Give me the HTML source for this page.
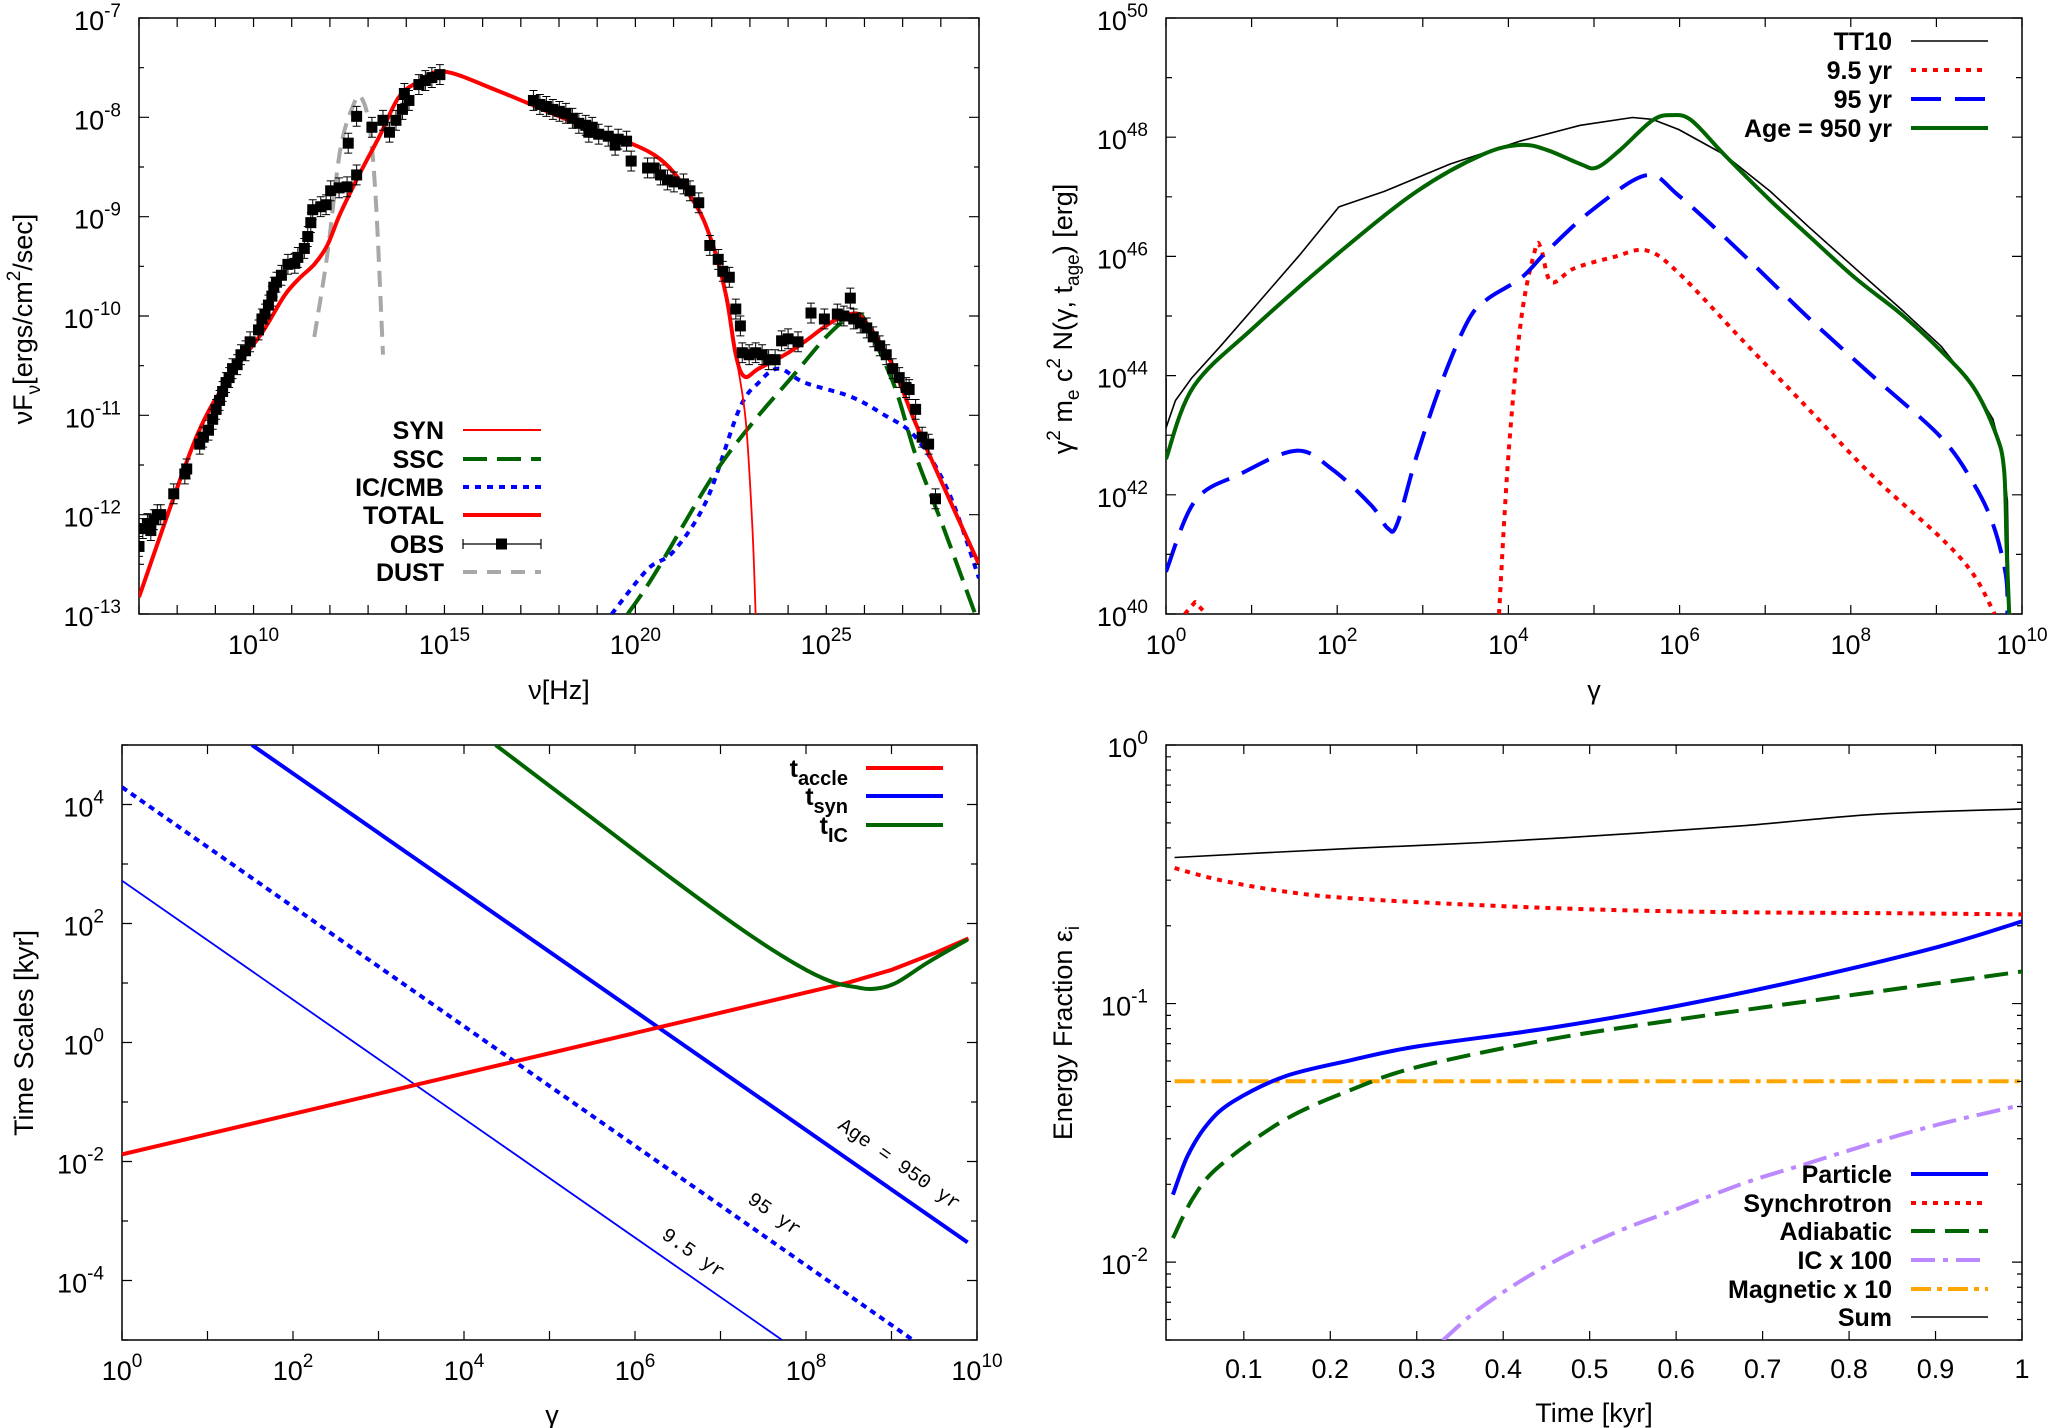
<!DOCTYPE html>
<html><head><meta charset="utf-8">
<style>
body{margin:0;background:#fff}
svg{display:block;font-family:"Liberation Sans",sans-serif}
</style></head>
<body>
<svg id="chart" width="2050" height="1428" viewBox="0 0 2050 1428"></svg>
<script>
// ===== Panel 1: SED (log10 nu, log10 nuFnu) =====
const synX  = [7.00,8.5,9.5,10.22,10.8,11.2,11.59,11.93,12.27,12.79,13.3,13.8,14.33,15.0,16.38,18.44,20.5,21.5,22.0,22.38,22.63,22.89,23.06,23.15];
const synY  = [-12.83,-11.22,-10.55,-10.17,-9.8,-9.62,-9.48,-9.29,-8.97,-8.56,-8.19,-7.8,-7.64,-7.54,-7.73,-8.06,-8.38,-8.83,-9.25,-9.8,-10.39,-11.05,-12.09,-13.0];
const totX  = [7.00,8.5,9.5,10.22,10.8,11.2,11.59,11.93,12.27,12.79,13.3,13.8,14.33,15.0,16.38,18.44,20.5,21.5,22.0,22.38,22.63,22.86,23.23,23.92,24.43,25.1,25.63,25.97,26.66,27.34,28.03,29.0];
const totY  = [-12.83,-11.22,-10.55,-10.17,-9.8,-9.62,-9.48,-9.29,-8.97,-8.56,-8.19,-7.8,-7.64,-7.54,-7.73,-8.06,-8.38,-8.83,-9.25,-9.8,-10.39,-10.61,-10.53,-10.39,-10.26,-10.07,-9.98,-10.03,-10.44,-11.08,-11.68,-12.5];
const sscX  = [19.8,20.5,22.0,23.06,24.09,25.1,25.8,26.1,26.8,27.34,28.03,28.9];
const sscY  = [-13,-12.6,-11.63,-11.08,-10.62,-10.17,-9.98,-10.12,-10.72,-11.4,-12.09,-13];
const cmbX  = [19.38,20.32,21.0,21.86,22.72,23.23,23.75,24.43,25.63,26.49,27.34,28.2,29.0];
const cmbY  = [-13,-12.55,-12.37,-11.86,-10.94,-10.67,-10.53,-10.67,-10.81,-10.99,-11.22,-11.77,-12.64];
const dustX = [11.59,11.93,12.27,12.62,12.82,13.04,13.21,13.39];
const dustY = [-10.21,-9.39,-8.33,-7.87,-7.8,-8.1,-8.88,-10.39];
const obsX = [7.00,7.10,7.22,7.31,7.39,7.48,7.57,7.91,8.20,8.25,8.59,8.68,8.82,8.93,9.02,9.11,9.19,9.28,9.36,9.45,9.57,9.67,9.79,9.91,10.13,10.22,10.30,10.39,10.48,10.53,10.60,10.73,10.90,11.08,11.16,11.33,11.42,11.50,11.55,11.76,11.90,12.02,12.24,12.45,12.70,12.48,12.70,13.10,13.39,13.56,13.73,13.90,14.07,13.95,14.33,14.50,14.67,14.88,
 17.33,17.50,17.67,17.84,18.01,18.18,18.35,18.52,18.70,18.87,18.78,19.04,19.29,19.47,19.55,19.77,19.89,20.32,20.49,20.66,20.84,21.01,21.26,21.43,21.66,21.95,22.17,22.29,22.46,22.63,22.75,
 22.80,22.98,23.15,23.32,23.49,23.66,23.83,24.00,24.26,24.60,24.95,25.29,25.46,25.63,25.72,25.89,26.06,26.23,26.40,26.57,26.74,26.91,27.09,27.17,27.34,27.51,27.68,27.86];
const obsY = [-12.32,-12.14,-12.09,-12.16,-12.05,-12.00,-12.00,-11.79,-11.59,-11.54,-11.29,-11.22,-11.15,-11.04,-10.94,-10.85,-10.76,-10.67,-10.62,-10.53,-10.49,-10.39,-10.35,-10.26,-10.14,-10.03,-9.98,-9.89,-9.80,-9.71,-9.66,-9.59,-9.48,-9.47,-9.41,-9.32,-9.20,-9.06,-8.93,-8.90,-8.88,-8.74,-8.71,-8.70,-8.58,-8.26,-7.99,-8.10,-8.03,-8.15,-8.03,-7.92,-7.83,-7.76,-7.67,-7.63,-7.60,-7.57,
 -7.83,-7.87,-7.89,-7.92,-7.94,-7.96,-8.01,-8.06,-8.08,-8.10,-8.15,-8.17,-8.19,-8.28,-8.22,-8.24,-8.44,-8.51,-8.51,-8.58,-8.63,-8.65,-8.67,-8.74,-8.86,-9.29,-9.43,-9.55,-9.61,-9.93,-10.10,
 -10.37,-10.39,-10.37,-10.39,-10.44,-10.44,-10.25,-10.23,-10.26,-9.97,-10.03,-9.98,-10.00,-9.82,-10.03,-10.07,-10.12,-10.21,-10.30,-10.39,-10.53,-10.62,-10.72,-10.74,-10.94,-11.22,-11.29,-11.84];
const obsErr = 0.1;

// ===== Panel 2: electron spectra (log10 gamma, log10 energy) =====
const ttX  = [0,0,0.11,0.30,0.64,1.10,1.56,2.02,2.55,3.32,4.15,4.84,5.45,5.68,5.99,6.52,7.06,7.52,8.05,8.59,9.05,9.43,9.66,9.77,9.83,9.85];
const ttY  = [43.96,43.12,43.58,43.96,44.5,45.26,46.02,46.83,47.09,47.55,47.94,48.2,48.33,48.3,48.13,47.71,47.09,46.48,45.8,45.11,44.5,43.81,43.27,42.66,41.9,40];
const a950X = [0,0.32,1.02,2.02,2.93,3.70,4.15,4.46,4.84,5.03,5.30,5.68,5.91,6.14,6.52,7.06,7.52,8.05,8.59,9.05,9.43,9.69,9.79,9.82,9.85];
const a950Y = [42.6,43.81,44.8,46.06,47.09,47.71,47.87,47.78,47.55,47.49,47.78,48.28,48.37,48.28,47.71,46.94,46.33,45.64,45.03,44.42,43.81,43.04,42.43,41.13,40];
const a95X = [0,0.34,0.87,1.52,1.94,2.40,2.59,2.70,2.93,3.24,3.54,3.77,4.15,4.46,4.99,5.61,5.99,6.75,7.52,8.28,9.05,9.43,9.66,9.81,9.83];
const a95Y = [40.71,41.9,42.35,42.74,42.43,41.82,41.44,41.51,42.66,43.96,44.95,45.3,45.64,46.1,46.79,47.36,47.02,46.02,44.95,43.96,42.97,42.2,41.51,40.67,40];
const a9aX = [0.22,0.34,0.47];
const a9aY = [40,40.2,40];
const a9bX = [3.89,4.0,4.15,4.31,4.38,4.50,4.77,5.23,5.61,5.99,6.75,7.52,8.28,9.05,9.43,9.68];
const a9bY = [40,42.66,44.95,46.1,46.14,45.57,45.8,45.99,46.1,45.72,44.57,43.42,42.28,41.28,40.67,40];

// ===== Panel 3: time scales (log10 gamma, log10 kyr) =====
const accX = [0,8.5,9.0,9.5,9.9];
const accY = [-1.88,1.01,1.22,1.5,1.75];
const syn950X = [1.52,9.89];
const syn950Y = [5.0,-3.36];
const syn95X = [0,9.25];
const syn95Y = [4.29,-5.0];
const syn9X = [0,7.72];
const syn9Y = [2.72,-5.0];
const icX = [4.37,5.5,6.5,7.3,7.9,8.3,8.59,8.78,9.05,9.43,9.89];
const icY = [5.0,3.77,2.68,1.85,1.3,1.02,0.93,0.90,1.0,1.35,1.73];

// ===== Panel 4: energy fractions (time kyr, log10 fraction) =====
const sumT = [0.02,0.224,0.376,0.527,0.678,0.83,1.0];
const sumL = [-0.435,-0.4,-0.377,-0.347,-0.312,-0.268,-0.247];
const syncT = [0.02,0.073,0.148,0.224,0.376,0.527,0.678,0.83,1.0];
const syncL = [-0.476,-0.523,-0.567,-0.593,-0.62,-0.638,-0.647,-0.65,-0.655];
const partT = [0.018,0.035,0.058,0.088,0.148,0.224,0.3,0.451,0.603,0.754,0.905,1.0];
const partL = [-1.739,-1.589,-1.466,-1.378,-1.281,-1.219,-1.166,-1.096,-1.008,-0.902,-0.779,-0.682];
const adiT = [0.018,0.042,0.073,0.148,0.224,0.3,0.451,0.603,0.754,0.905,1.0];
const adiL = [-1.907,-1.748,-1.625,-1.448,-1.334,-1.246,-1.14,-1.061,-0.99,-0.92,-0.876];
const magT = [0.02,1.0];
const magL = [-1.3,-1.3];
const icxT = [0.33,0.376,0.451,0.527,0.603,0.678,0.754,0.83,0.905,1.0];
const icxL = [-2.303,-2.171,-2.012,-1.889,-1.792,-1.695,-1.616,-1.537,-1.466,-1.392];

const p4xTicks = ['0.1','0.2','0.3','0.4','0.5','0.6','0.7','0.8','0.9','1'];

const NS='http://www.w3.org/2000/svg';
const svg=document.getElementById('chart');
function mk(tag,parent){const e=document.createElementNS(NS,tag);parent.appendChild(e);return e;}
function at(e,o){for(const k in o)e.setAttribute(k,o[k]);return e;}

const P1={L:139,R:979,T:18,B:614,x0:7,x1:29,y0:-13,y1:-7,id:'p1'};
const P2={L:1166,R:2022,T:18,B:614,x0:0,x1:10,y0:40,y1:50,id:'p2'};
const P3={L:122,R:977,T:745,B:1340,x0:0,x1:10,y0:-5,y1:5,id:'p3'};
const P4={L:1166,R:2022,T:745,B:1340,x0:0.01,x1:1,y0:Math.log10(0.005),y1:0,id:'p4'};
function X(p,v){return p.L+(v-p.x0)/(p.x1-p.x0)*(p.R-p.L);}
function Y(p,v){return p.B-(v-p.y0)/(p.y1-p.y0)*(p.B-p.T);}

const defs=mk('defs',svg);
[P1,P2,P3,P4].forEach(p=>{
  const c=at(mk('clipPath',defs),{id:'clip-'+p.id});
  at(mk('rect',c),{x:p.L,y:p.T,width:p.R-p.L,height:p.B-p.T});
});

function panelGroup(p,name){
  const g=mk('g',svg);
  
  
  p.g=g;
  const fr=at(mk('rect',g),{x:p.L,y:p.T,width:p.R-p.L,height:p.B-p.T,fill:'none',stroke:'#000','stroke-width':1.5});
  
  
  p.plot=at(mk('g',g),{'clip-path':'url(#clip-'+p.id+')'});
  
  
  return g;
}

function tickX(p,px,len){
  const t=at(mk('path',p.g),{d:`M${px},${p.B}v${-len}M${px},${p.T}v${len}`,stroke:'#000','stroke-width':1.2});
  
  
}
function tickY(p,py,len){
  const t=at(mk('path',p.g),{d:`M${p.L},${py}h${len}M${p.R},${py}h${-len}`,stroke:'#000','stroke-width':1.2});
  
  
}
function powLabel(parent,x,y,exp,anchor,name){
  const t=at(mk('text',parent),{x:x,y:y,'font-size':27,'text-anchor':anchor,fill:'#000'});
  
  
  t.appendChild(document.createTextNode('10'));
  const s=at(mk('tspan',t),{'font-size':19,dy:-13});
  s.textContent=exp;
  return t;
}
function textLabel(parent,x,y,str,anchor,size,name){
  const t=at(mk('text',parent),{x:x,y:y,'font-size':size,'text-anchor':anchor,fill:'#000'});
  
  
  t.textContent=str;
  return t;
}
function series(p,xs,ys,style,name,smooth){
  const pts=xs.map((x,i)=>[X(p,x),Y(p,ys[i])]);
  let d='M'+pts[0][0].toFixed(1)+','+pts[0][1].toFixed(1);
  for(let i=0;i<pts.length-1;i++){
    if(!smooth){d+='L'+pts[i+1][0].toFixed(1)+','+pts[i+1][1].toFixed(1);continue;}
    const p0=pts[Math.max(0,i-1)],p1=pts[i],p2=pts[i+1],p3=pts[Math.min(pts.length-1,i+2)];
    const k=1/6;
    const c1=[p1[0]+(p2[0]-p0[0])*k,p1[1]+(p2[1]-p0[1])*k];
    const c2=[p2[0]-(p3[0]-p1[0])*k,p2[1]-(p3[1]-p1[1])*k];
    d+='C'+c1[0].toFixed(1)+','+c1[1].toFixed(1)+' '+c2[0].toFixed(1)+','+c2[1].toFixed(1)+' '+p2[0].toFixed(1)+','+p2[1].toFixed(1);
  }
  const e=at(mk('path',p.plot),Object.assign({d:d,fill:'none','stroke-linejoin':'round'},style));
  
  
  return e;
}
function legendEntry(p,xText,xl0,xl1,y,style,name){
  const g=mk('g',p.g);
  
  
  const t=at(mk('text',g),{x:xText,y:y+9,'font-size':25,'font-weight':'bold','text-anchor':'end'});
  at(mk('line',g),Object.assign({x1:xl0,x2:xl1,y1:y,y2:y},style));
  return {g:g,t:t};
}

// ---------- Panel 1 ----------
panelGroup(P1,'sed-panel');
for(let d=7;d<=29;d++){tickX(P1,X(P1,d),9);}
[10,15,20,25].forEach(d=>powLabel(P1.g,X(P1,d),654,String(d),'middle','x-tick-label'));
for(let d=-13;d<=-7;d++){tickY(P1,Y(P1,d),10);powLabel(P1.g,121,Y(P1,d)+12,String(d),'end','y-tick-label');}
for(let d=-13;d<-7;d++){tickY(P1,Y(P1,d+0.5),5);}
series(P1,dustX,dustY,{stroke:'#a8a8a8','stroke-width':4,'stroke-dasharray':'16,9'},'dust-line',true);
series(P1,cmbX,cmbY,{stroke:'#0000ff','stroke-width':4,'stroke-dasharray':'6,6'},'ic-cmb-line',true);
series(P1,sscX,sscY,{stroke:'#006400','stroke-width':4,'stroke-dasharray':'24,10'},'ssc-line',true);
series(P1,synX,synY,{stroke:'#ff0000','stroke-width':1.8},'syn-line',true);
series(P1,totX,totY,{stroke:'#ff0000','stroke-width':4},'total-line',true);
{
  const og=mk('g',P1.plot);
  
  
  for(let i=0;i<obsX.length;i++){
    const cx=X(P1,obsX[i]),cy=Y(P1,obsY[i]);
    const eb=at(mk('path',og),{d:`M${cx},${Y(P1,obsY[i]+obsErr)}V${Y(P1,obsY[i]-obsErr)}M${cx-4},${Y(P1,obsY[i]+obsErr)}h8M${cx-4},${Y(P1,obsY[i]-obsErr)}h8`,stroke:'#000','stroke-width':1});
    
    
    const r=at(mk('rect',og),{x:cx-5.5,y:cy-5.5,width:11,height:11,fill:'#000'});
    
    
  }
}
{
  const rows=[['SYN',{stroke:'#ff0000','stroke-width':2}],['SSC',{stroke:'#006400','stroke-width':4,'stroke-dasharray':'24,10'}],['IC/CMB',{stroke:'#0000ff','stroke-width':4,'stroke-dasharray':'6,6'}],['TOTAL',{stroke:'#ff0000','stroke-width':4}],['OBS',{stroke:'#000','stroke-width':1.2}],['DUST',{stroke:'#a8a8a8','stroke-width':4,'stroke-dasharray':'14,10'}]];
  const ys=[430,459,487,515,544,572];
  rows.forEach((r,i)=>{
    const le=legendEntry(P1,444,463,541,ys[i],r[1],'legend-entry-'+r[0].toLowerCase().replace('/','-'));
    le.t.textContent=r[0];
    if(r[0]==='OBS'){
      at(mk('rect',le.g),{x:496,y:ys[i]-5.5,width:11,height:11,fill:'#000'});
      at(mk('path',le.g),{d:`M463,${ys[i]-5}v10M541,${ys[i]-5}v10`,stroke:'#000','stroke-width':1.2});
    }
  });
}
{
  const t=at(mk('text',svg),{x:0,y:0,'font-size':27,'text-anchor':'middle',transform:'translate(32,319) rotate(-90)'});
  
  
  t.innerHTML='νF<tspan font-size="19" dy="8">ν</tspan><tspan dy="-8">[ergs/cm</tspan><tspan font-size="19" dy="-12">2</tspan><tspan dy="12">/sec]</tspan>';
  textLabel(svg,559,699,'ν[Hz]','middle',27,'x-axis-title-sed');
}

// ---------- Panel 2 ----------
panelGroup(P2,'electron-spectrum-panel');
for(let d=0;d<=10;d++){tickX(P2,X(P2,d),9);if(d%2===0)powLabel(P2.g,X(P2,d),654,String(d),'middle','x-tick-label');}
for(let d=40;d<=50;d++){tickY(P2,Y(P2,d),d%2===0?10:6);if(d%2===0)powLabel(P2.g,1148,Y(P2,d)+12,String(d),'end','y-tick-label');}
series(P2,ttX,ttY,{stroke:'#000','stroke-width':1.6},'tt10-line',false);
series(P2,a9aX,a9aY,{stroke:'#ff0000','stroke-width':4,'stroke-dasharray':'5,6'},'age-9p5yr-line-low',false);
series(P2,a9bX,a9bY,{stroke:'#ff0000','stroke-width':4,'stroke-dasharray':'5,6'},'age-9p5yr-line',true);
series(P2,a95X,a95Y,{stroke:'#0000ff','stroke-width':4,'stroke-dasharray':'30,14'},'age-95yr-line',true);
series(P2,a950X,a950Y,{stroke:'#006400','stroke-width':4},'age-950yr-line',true);
{
  const rows=[['TT10',{stroke:'#000','stroke-width':1.6}],['9.5 yr',{stroke:'#ff0000','stroke-width':4,'stroke-dasharray':'5,6'}],['95 yr',{stroke:'#0000ff','stroke-width':4,'stroke-dasharray':'30,14'}],['Age = 950 yr',{stroke:'#006400','stroke-width':4}]];
  const ys=[41,70,99,128];
  rows.forEach((r,i)=>{const le=legendEntry(P2,1892,1911,1988,ys[i],r[1],'legend-entry-'+i);le.t.textContent=r[0];});
  const t=at(mk('text',svg),{x:0,y:0,'font-size':27,'text-anchor':'middle',transform:'translate(1072,319) rotate(-90)'});
  
  
  t.innerHTML='γ<tspan font-size="19" dy="-12">2</tspan><tspan dy="12"> m</tspan><tspan font-size="19" dy="7">e</tspan><tspan dy="-7"> c</tspan><tspan font-size="19" dy="-12">2</tspan><tspan dy="12"> N(γ, t</tspan><tspan font-size="19" dy="7">age</tspan><tspan dy="-7">) [erg]</tspan>';
  textLabel(svg,1594,699,'γ','middle',27,'x-axis-title-gamma-top');
}

// ---------- Panel 3 ----------
panelGroup(P3,'time-scales-panel');
for(let d=0;d<=10;d++){tickX(P3,X(P3,d),9);if(d%2===0)powLabel(P3.g,X(P3,d),1380,String(d),'middle','x-tick-label');}
for(let d=-5;d<=5;d++){tickY(P3,Y(P3,d),d%2===0?10:6);if(d%2===0)powLabel(P3.g,104,Y(P3,d)+12,String(d),'end','y-tick-label');}
series(P3,syn9X,syn9Y,{stroke:'#0000ff','stroke-width':1.8},'t-syn-9p5yr-line',false);
series(P3,syn95X,syn95Y,{stroke:'#0000ff','stroke-width':4,'stroke-dasharray':'6,5'},'t-syn-95yr-line',false);
series(P3,syn950X,syn950Y,{stroke:'#0000ff','stroke-width':4},'t-syn-950yr-line',false);
series(P3,accX,accY,{stroke:'#ff0000','stroke-width':4},'t-accle-line',false);
series(P3,icX,icY,{stroke:'#006400','stroke-width':4},'t-ic-line',true);
[['Age = 950 yr',896,1169,'label-age-950'],['95 yr',771,1219,'label-95yr'],['9.5 yr',690,1258,'label-9p5yr']].forEach(a=>{
  const t=at(mk('text',svg),{x:a[1],y:a[2],'font-size':20,'font-family':'"Liberation Mono",monospace','text-anchor':'middle',transform:`rotate(35 ${a[1]} ${a[2]})`});
  
  
  t.textContent=a[0];
});
{
  const rows=[['accle',{stroke:'#ff0000','stroke-width':4}],['syn',{stroke:'#0000ff','stroke-width':4}],['IC',{stroke:'#006400','stroke-width':4}]];
  const ys=[768,796,825];
  rows.forEach((r,i)=>{const le=legendEntry(P3,848,866,943,ys[i],r[1],'legend-entry-t-'+r[0].toLowerCase());
    le.t.innerHTML='t<tspan font-size="20" dy="8">'+r[0]+'</tspan>';});
  const t=at(mk('text',svg),{x:0,y:0,'font-size':27,'text-anchor':'middle',transform:'translate(33,1033) rotate(-90)'});
  
  
  t.textContent='Time Scales [kyr]';
  textLabel(svg,552,1424,'γ','middle',27,'x-axis-title-gamma-bottom');
}

// ---------- Panel 4 ----------
panelGroup(P4,'energy-fraction-panel');
p4xTicks.forEach(s=>{const v=parseFloat(s);tickX(P4,X(P4,v),9);textLabel(P4.g,X(P4,v),1378,s,'middle',27,'x-tick-label');});
[0,-1,-2].forEach(d=>{tickY(P4,Y(P4,d),10);powLabel(P4.g,1148,Y(P4,d)+12,String(d),'end','y-tick-label');});
[-3,-2,-1].forEach(d=>{for(let m=2;m<=9;m++){const v=d+Math.log10(m);if(v>=P4.y0)tickY(P4,Y(P4,v),5);}});
series(P4,sumT,sumL,{stroke:'#000','stroke-width':1.6},'sum-line',true);
series(P4,syncT,syncL,{stroke:'#ff0000','stroke-width':4,'stroke-dasharray':'5,6'},'synchrotron-line',true);
series(P4,magT,magL,{stroke:'#ffa500','stroke-width':4,'stroke-dasharray':'20,6,5,6'},'magnetic-line',false);
series(P4,icxT,icxL,{stroke:'#bb88ff','stroke-width':4,'stroke-dasharray':'24,8,5,8'},'ic-x100-line',true);
series(P4,adiT,adiL,{stroke:'#006400','stroke-width':4,'stroke-dasharray':'24,10'},'adiabatic-line',true);
series(P4,partT,partL,{stroke:'#0000ff','stroke-width':4},'particle-line',true);
{
  const rows=[['Particle',{stroke:'#0000ff','stroke-width':4}],['Synchrotron',{stroke:'#ff0000','stroke-width':4,'stroke-dasharray':'5,6'}],['Adiabatic',{stroke:'#006400','stroke-width':4,'stroke-dasharray':'24,10'}],['IC x 100',{stroke:'#bb88ff','stroke-width':4,'stroke-dasharray':'24,8,5,8'}],['Magnetic x 10',{stroke:'#ffa500','stroke-width':4,'stroke-dasharray':'20,6,5,6'}],['Sum',{stroke:'#000','stroke-width':1.6}]];
  const ys=[1174,1203,1231,1260,1289,1317];
  rows.forEach((r,i)=>{const le=legendEntry(P4,1892,1911,1988,ys[i],r[1],'legend-entry-'+r[0].toLowerCase().replace(/ /g,'-'));le.t.textContent=r[0];});
  const t=at(mk('text',svg),{x:0,y:0,'font-size':27,'text-anchor':'middle',transform:'translate(1072,1033) rotate(-90)'});
  
  
  t.innerHTML='Energy Fraction ε<tspan font-size="19" dy="7">i</tspan>';
  textLabel(svg,1594,1422,'Time [kyr]','middle',27,'x-axis-title-time');
}
</script>
</body></html>
